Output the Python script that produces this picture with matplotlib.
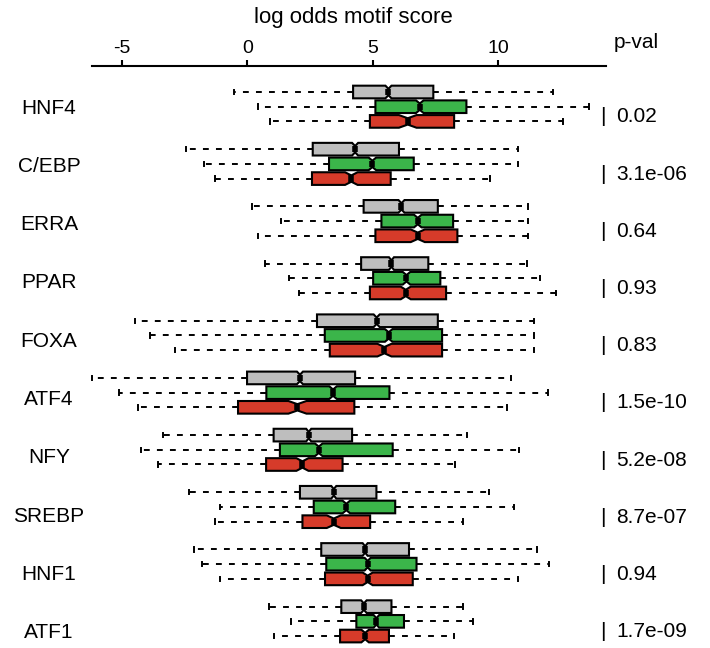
import matplotlib
matplotlib.use("Agg")
import matplotlib.pyplot as plt
import numpy as np

motifs = ["HNF4", "C/EBP", "ERRA", "PPAR", "FOXA", "ATF4", "NFY", "SREBP", "HNF1", "ATF1"]
pvals = ["0.02", "3.1e-06", "0.64", "0.93", "0.83", "1.5e-10", "5.2e-08", "8.7e-07", "0.94", "1.7e-09"]
series_colors = ["#BEBEBE", "#3BB54A", "#D63B2A"]

# per motif: [gray, green, red] -> (whislo, q1, med, q3, whishi)
gray_stats = [
    (-0.53, 4.22, 5.63, 7.42, 12.19),
    (-2.46, 2.61, 4.30, 6.05, 10.79),
    (0.20, 4.64, 6.15, 7.60, 11.20),
    (0.71, 4.54, 5.75, 7.22, 11.15),
    (-4.47, 2.78, 5.16, 7.60, 11.42),
    (-6.20, -0.01, 2.10, 4.30, 10.51),
    (-3.38, 1.05, 2.45, 4.18, 8.75),
    (-2.31, 2.10, 3.45, 5.15, 9.65),
    (-2.14, 2.95, 4.70, 6.45, 11.55),
    (0.85, 3.75, 4.65, 5.75, 8.60),
]
green_stats = [
    (0.44, 5.11, 6.88, 8.74, 13.64),
    (-1.74, 3.26, 4.99, 6.64, 10.79),
    (1.36, 5.35, 6.80, 8.21, 11.20),
    (1.67, 5.02, 6.35, 7.70, 11.68),
    (-3.88, 3.09, 5.64, 7.77, 11.42),
    (-5.11, 0.76, 3.42, 5.67, 12.01),
    (-4.25, 1.30, 2.85, 5.80, 10.85),
    (-1.08, 2.65, 3.95, 5.90, 10.65),
    (-1.81, 3.15, 4.80, 6.75, 12.05),
    (1.75, 4.35, 5.15, 6.25, 9.00),
]
red_stats = [
    (0.92, 4.89, 6.40, 8.25, 12.60),
    (-1.28, 2.58, 4.15, 5.72, 9.70),
    (0.44, 5.11, 6.80, 8.38, 11.20),
    (2.05, 4.89, 6.32, 7.93, 12.31),
    (-2.90, 3.29, 5.47, 7.77, 11.42),
    (-4.35, -0.37, 2.00, 4.27, 10.34),
    (-3.55, 0.75, 2.20, 3.80, 8.30),
    (-1.29, 2.20, 3.45, 4.90, 8.60),
    (-1.08, 3.10, 4.80, 6.60, 10.80),
    (1.05, 3.70, 4.70, 5.65, 8.25),
]
# notch half-widths (confidence interval of the median)
gray_notch = [0.12, 0.12, 0.12, 0.10, 0.12, 0.12, 0.10, 0.10, 0.10, 0.11]
green_notch = [0.15, 0.15, 0.15, 0.15, 0.15, 0.15, 0.15, 0.15, 0.12, 0.11]
red_notch = [0.35, 0.25, 0.28, 0.20, 0.28, 0.36, 0.24, 0.28, 0.20, 0.15]

all_stats = [gray_stats, green_stats, red_stats]
all_notch = [gray_notch, green_notch, red_notch]

W, H = 710, 648
fig = plt.figure(figsize=(W / 100, H / 100), dpi=100)
plt.rcParams["font.family"] = ["Liberation Sans", "DejaVu Sans"]

# layout
px0, ppu = 247.3, 25.07          # pixel of x=0, pixels per unit
xlo, xhi = -6.6, 14.6
slot = 14.7                       # pixels between rows
grp = 3.89                        # slots per group
row0 = 92.0                       # pixel of first row
axis_y = 66.0
s_top = (axis_y - row0) / slot
s_bot = (H - row0) / slot
ax = fig.add_axes([(px0 + xlo * ppu) / W, 0, (xhi - xlo) * ppu / W, (H - axis_y) / H])
ax.set_xlim(xlo, xhi)
ax.set_ylim(s_bot, s_top)

for j in range(3):
    stats = []
    pos = []
    for i in range(len(motifs)):
        wl, q1, med, q3, wh = all_stats[j][i]
        n = all_notch[j][i]
        stats.append(dict(whislo=wl, q1=q1, med=med, q3=q3, whishi=wh,
                          cilo=med - n, cihi=med + n, fliers=[]))
        pos.append(grp * i + j)
    bp = ax.bxp(stats, positions=pos, widths=0.86, orientation="horizontal",
                shownotches=True, patch_artist=True, showfliers=False,
                manage_ticks=False, capwidths=0.3,
                boxprops=dict(facecolor=series_colors[j], edgecolor="black", linewidth=1.5),
                whiskerprops=dict(color="black", linewidth=1.4, linestyle=(0, (3.0, 3.7))),
                capprops=dict(color="black", linewidth=1.4),
                medianprops=dict(color="black", linewidth=4.0, solid_capstyle="butt"))
    for med in bp["medians"]:
        med.set_zorder(3)

for sp in ["left", "right", "bottom"]:
    ax.spines[sp].set_visible(False)
ax.spines["top"].set_bounds(-6.2, 14.3)
ax.spines["top"].set_linewidth(1.5)
ax.xaxis.tick_top()
ax.set_xticks([-5, 0, 5, 10])
ax.set_xticklabels(["-5", "0", "5", "10"])
ax.tick_params(axis="x", direction="out", length=4, width=1.5, labelsize=14, pad=2.5)
ax.set_yticks([])

# motif labels and p-values
for i, (m, p) in enumerate(zip(motifs, pvals)):
    ly = 1 - (108 + 58.3 * i) / H
    fig.text(49 / W, ly, m, ha="center", va="center", fontsize=15)
    py = 1 - (117 + 57.2 * i) / H
    fig.text(603.3 / W, py, "|", ha="center", va="center", fontsize=15)
    fig.text(616 / W, py, p, ha="left", va="center", fontsize=15)

fig.text(353 / W, 1 - 18 / H, "log odds motif score", ha="center", va="center", fontsize=16)
fig.text(614 / W, 1 - 42 / H, "p-val", ha="left", va="center", fontsize=15)

fig.savefig("out.png", dpi=100)
